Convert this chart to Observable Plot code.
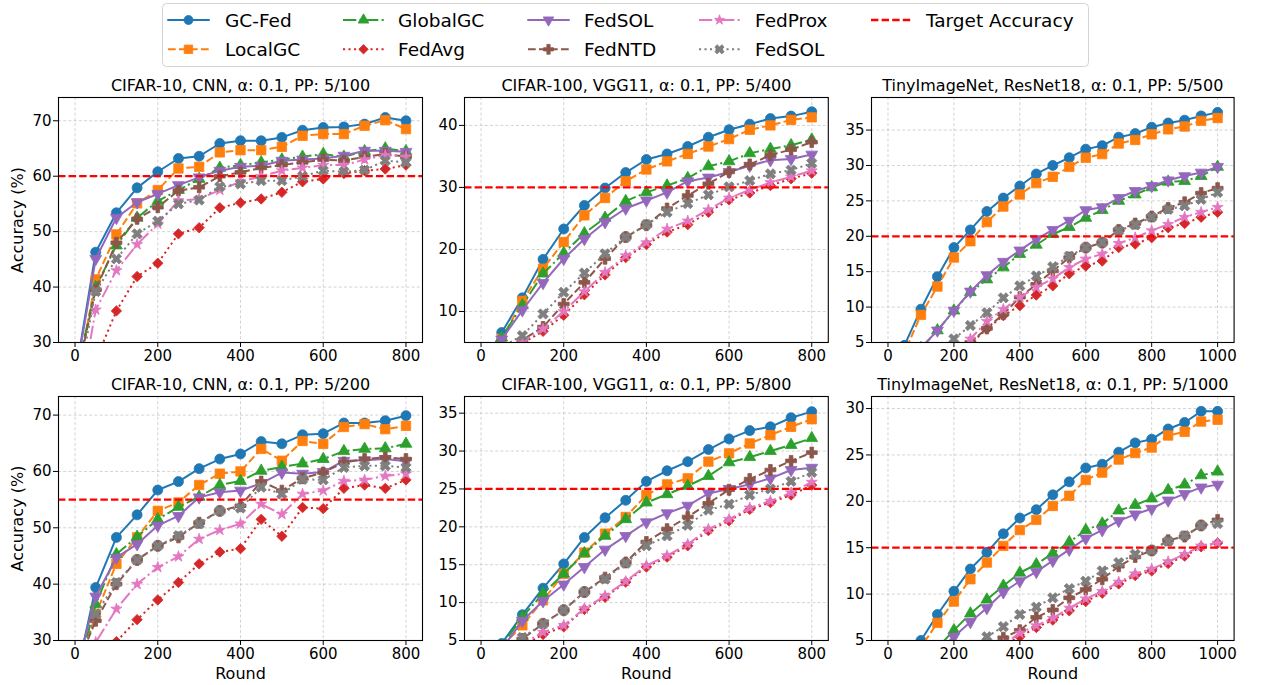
<!DOCTYPE html>
<html><head><meta charset="utf-8">
<script src="https://cdn.jsdelivr.net/npm/d3@7"></script>
<script src="https://cdn.jsdelivr.net/npm/@observablehq/plot@0.6"></script>
<style>
body{margin:0;background:#fff;font-family:"DejaVu Sans",sans-serif;}
#chart{position:relative;width:1262px;height:685px;overflow:hidden;background:#fff;}
#chart svg{position:absolute;}
</style></head><body><div id="chart"></div>
<script>
// ---- series definitions ----
const seriesNames = ["GC-Fed","LocalGC","GlobalGC","FedAvg","FedSOL","FedNTD","FedProx","FedSOL"];
const seriesColors = ["#1f77b4","#ff7f0e","#2ca02c","#d62728","#9467bd","#8c564b","#e377c2","#7f7f7f"];
const seriesDash = [null,"7.7,3.3","13.3,3.3,2.1,3.3","2.1,3.4",null,"7.7,3.3","13.3,3.3,2.1,3.3","2.1,3.4"];

// ---- rounds ----
const rounds800 = [0,50,100,150,200,250,300,350,400,450,500,550,600,650,700,750,800];
const rounds1000 = [0,50,100,150,200,250,300,350,400,450,500,550,600,650,700,750,800,850,900,950,1000];
const xTicks800 = [0,200,400,600,800];
const xTicks1000 = [0,200,400,600,800,1000];

// ---- accuracy values, series order as seriesNames ----
const cifar10_pp100 = [
  [23.7,46.3,53.4,57.9,60.8,63.2,63.6,65.9,66.4,66.4,67.0,68.3,68.8,68.9,69.4,70.6,70.0],
  [21,41.4,49.5,55.1,57.5,61.4,61.7,64.3,64.7,64.7,65.3,67.3,67.6,67.6,69.1,70.1,68.5],
  [23.3,40,47.5,52.5,55.5,57.5,59.5,61.5,62,62.5,63,63.5,64,63.5,64.5,65,64.5],
  [10,26.8,35.7,41.9,44.3,49.6,50.7,54.3,55.2,55.9,57.1,59.0,59.5,60.5,61,61.3,62],
  [23.5,45.1,52.5,55.3,56.8,58.4,59.8,61,61.7,61.9,62.8,63,63.2,63.7,64.6,64.6,64.4],
  [22.5,39.5,48,52.3,54.4,57.4,58,60,60.7,61.5,62,62.5,63,62.8,63.5,64,63.5],
  [15,35.9,43,47.7,51.4,55.6,55.9,57.5,59,60,61,61.5,62,62,63,63.8,63.5],
  [20,39.2,45.1,49.6,51.9,55,55.7,58.1,58.6,59.2,59.2,60,61,60.8,61.1,62.8,62.5]
];
const cifar100_pp400 = [
  [1,6.6,12.2,18.4,23.3,27.1,29.9,32.4,34.5,35.4,36.6,38.1,39.3,40.2,41.1,41.5,42.2],
  [1,5.6,11.7,16.9,21.2,25.5,28.3,31,32.9,34.2,35.4,36.6,37.8,39.3,40,40.9,41.3],
  [1,5.8,11,16.1,19.4,22.6,25.1,27.8,29.2,30.3,31.5,33.4,34.2,35.5,36.2,36.8,37.7],
  [1,3,4.9,6.8,9.4,12.7,15.9,18.7,20.8,22.8,24,26,28,29.1,30.3,31.4,32.3],
  [1,5.5,10.2,14.6,18.5,21.7,24.4,26.6,27.9,29.2,31,31.6,32.5,33.5,34.4,34.6,35.3],
  [1,3.5,5.4,7.5,11.2,14.7,18.5,22,23.9,26.6,28.7,30.6,32.5,33.7,35.2,36.1,37.3],
  [1,3.1,5.1,7.2,10,13.2,16.3,19,21.1,23.3,24.6,26.4,28.3,29.6,30.8,31.7,32.7],
  [1,4.3,6.1,9.6,13.1,16.2,19.3,22,24,26,27.4,28.8,30.1,31.1,32.2,32.8,33.9]
];
const tiny_pp500 = [
  [0.5,4.6,9.7,14.3,18.4,20.9,23.5,25.4,27.1,28.8,30,31.1,32.3,32.8,34,34.5,35.4,36,36.4,37,37.5],
  [0.5,3.6,8.9,12.9,17,19.3,22,24.2,25.9,27.5,28.4,29.8,31.1,31.6,33.1,33.6,34.4,35.1,35.5,36.3,36.7],
  [0.5,1.5,4.2,6.7,9.5,12.1,13.9,15.6,17.5,18.8,20.3,21.3,22.6,23.7,25,25.9,26.9,27.7,27.8,28.5,29.8],
  [0.5,1,1.8,2.4,3,4.8,6.9,8.8,10.2,11.7,13,14.7,15.8,16.5,18.4,18.9,19.8,21.2,21.8,22.7,23.4],
  [0.5,1.5,4.2,6.7,9.5,12.2,14.5,16.4,18,19.6,20.9,22.2,23.7,24.1,25.4,26.4,27.1,27.9,28.5,29,29.8],
  [0.5,1,1.8,2.6,3.5,5,7,9,11.4,13.2,15.1,17,18.4,19.1,20.9,21.8,22.8,24,24.8,26.1,26.8],
  [0.5,1,1.8,2.5,3.2,5.5,8,9.7,11.4,12.8,14,15.6,16.8,17.5,19,19.8,20.8,21.7,22.7,23.4,24.1],
  [0.5,1,2,3.5,5.5,7.4,9.2,11.3,13,14.4,15.7,17.2,18.4,19.1,20.8,21.6,22.7,23.8,24.3,25.2,26.2]
];
const cifar10_pp200 = [
  [22.6,39.4,48.3,52.3,56.7,58.2,60.5,62.2,63.1,65.3,64.9,66.5,66.7,68.6,68.6,69,69.9],
  [23,34.7,43.6,48.3,53,54.5,57.6,59.6,60,64,61.9,65.4,64.9,67.9,68.4,67.5,68.1],
  [23,36.4,45.3,48.4,51.5,53.7,55.5,57.6,58.3,60.1,60.8,61.4,62.2,63.6,64,64.1,64.9],
  [10,24,29.8,33.7,37.2,40.3,43.6,45.7,46.3,51.5,48.5,53.6,53.4,57,57.6,57,58.5],
  [23.9,37.8,44.7,47.1,50.4,52.1,55.4,56.3,56.6,57.9,59.8,59.6,59.9,61.9,62,62.2,61.8],
  [24.8,33.5,40,44.3,46.8,48.3,50.9,53,53.9,58.2,56.6,58.8,59.8,61.6,62.2,62.5,62.2],
  [15,29.7,35.6,40,43,44.9,48,49.6,50.7,54.2,52.4,56,56.6,58.3,58.5,59.2,59.6],
  [24,34.7,40.3,44.3,46.8,48.6,50.7,53,53.5,57.2,56,58.6,58.5,60.7,61,61,60.7]
];
const cifar100_pp800 = [
  [1,4.6,8.4,11.9,15.1,18.6,21.2,23.5,26,27.4,28.6,30.2,31.6,32.7,33.2,34.4,35.2],
  [1,4.2,7,10.3,13.8,16.6,19.1,21.3,24.2,25.6,26.4,28.6,29.7,31,32.1,33.2,34.2],
  [1,4.3,8.1,11.2,13.8,16.5,18.8,21,23.2,24.3,25.4,26.7,28.5,29.2,30,30.8,31.7],
  [1,2.5,4.3,5.8,6.8,9.1,10.7,12.7,14.7,16,17.5,19.5,20.8,22.3,23.2,24.2,25.5],
  [1,3.9,7.6,10.2,12.4,14.7,17,18.8,20.6,21.8,22.8,24.4,25,25.6,26.4,27.5,27.8],
  [1,3,5.2,7.2,9,11.4,13.3,15.3,18,19.7,21.3,23.1,24.9,26.3,27.5,28.7,29.8],
  [1,2.6,4.5,6.1,7,9.2,10.9,12.8,14.9,16.2,17.7,19.7,21,22.5,23.4,24.5,25.9],
  [1,3,5.4,7.2,9,11.4,13.1,15.2,17.5,18.8,20.2,22.2,23,24.2,25,26,27.2]
];
const tiny_pp1000 = [
  [0.5,2,5,7.8,10.3,12.7,14.5,16.5,18.2,19.1,20.7,22.1,23.6,24,25.3,26.3,26.7,27.8,28.5,29.7,29.7],
  [0.5,1.8,4.3,6.9,9.2,11.6,13.4,15.2,16.9,18,19.5,20.6,22.3,23.1,24.5,25.2,25.8,27.1,27.5,28.6,28.8],
  [0.5,1,2.5,4.2,6.1,7.9,9.4,10.9,12.3,13.2,14.4,15.6,16.9,17.6,19,19.6,20.3,21.2,21.8,22.8,23.2],
  [0.5,1,1.5,2,2.5,3,3.8,4.5,5.4,6.4,7.2,8.2,9.2,10.1,11.1,12,12.5,13.3,14.1,15.1,15.5],
  [0.5,1,2.2,3.8,5.4,7,8.5,10.2,11.4,12.4,13.6,14.8,16,16.9,17.9,18.6,19.2,20.1,20.8,21.5,21.8],
  [0.5,1,1.5,2,2.8,3.5,4.3,5.3,6.1,7.5,8.3,9.6,10.5,11.6,13,14,14.7,15.8,16.2,17.4,18],
  [0.5,1,1.5,2,2.6,3.2,3.9,4.6,5.8,6.6,7.4,8.5,9.5,10.3,11.3,12.2,12.7,13.5,14.3,15.2,15.5],
  [0.5,1,1.6,2.3,3,4.3,5.4,6.5,7.8,8.6,9.6,10.6,11.4,12.5,13.4,14.3,14.7,15.7,16.3,17.4,17.6]
];

const panelTitles = [
  "CIFAR-10, CNN, α: 0.1, PP: 5/100",
  "CIFAR-100, VGG11, α: 0.1, PP: 5/400",
  "TinyImageNet, ResNet18, α: 0.1, PP: 5/500",
  "CIFAR-10, CNN, α: 0.1, PP: 5/200",
  "CIFAR-100, VGG11, α: 0.1, PP: 5/800",
  "TinyImageNet, ResNet18, α: 0.1, PP: 5/1000"
];
const targetAccuracy = [60, 30, 20, 55, 25, 15];
const yTicksList = [
  [30,40,50,60,70],
  [10,20,30,40],
  [5,10,15,20,25,30,35],
  [30,40,50,60,70],
  [5,10,15,20,25,30,35],
  [5,10,15,20,25,30]
];
const yDomains = [[30,74.2],[5,44.5],[5,39.6],[30,73.3],[5,37.2],[5,31.3]];

// ---- symbols ----
const SQ3 = Math.sqrt(3);
const triangleDown = {
  draw(ctx, size) {
    const y = -Math.sqrt(size / (SQ3 * 3));
    ctx.moveTo(0, -y * 2);
    ctx.lineTo(-SQ3 * y, y);
    ctx.lineTo(SQ3 * y, y);
    ctx.closePath();
  }
};
const filledX = {
  draw(ctx, size) {
    const r = Math.sqrt(size / 5) / 2;
    const pts = [[-3*r,-r],[-r,-r],[-r,-3*r],[r,-3*r],[r,-r],[3*r,-r],[3*r,r],[r,r],[r,3*r],[-r,3*r],[-r,r],[-3*r,r]];
    const c = Math.SQRT1_2;
    pts.forEach(([x,y],i) => { const X=(x-y)*c, Y=(x+y)*c; if (i) ctx.lineTo(X,Y); else ctx.moveTo(X,Y); });
    ctx.closePath();
  }
};
const seriesSymbols = ["circle","square","triangle","diamond2",triangleDown,"cross","star",filledX];
const d3Symbols = [d3.symbolCircle,d3.symbolSquare,d3.symbolTriangle,d3.symbolDiamond2,triangleDown,d3.symbolCross,d3.symbolStar,filledX];
const seriesR = [5,5.3,4.4,4.7,4.4,4.6,3.5,4.6];

// ---- layout ----
const colL = [57.5, 463.8, 871.2], colR = [421.5, 827.6, 1233.8];
const rowT = [97, 396], rowB = [342, 640];
const ML = 60, MR = 15, MT = 30, MB = 45;

const panelData = [cifar10_pp100, cifar100_pp400, tiny_pp500, cifar10_pp200, cifar100_pp800, tiny_pp1000];
const chart = document.getElementById("chart");

panelData.forEach((series, p) => {
  const col = p % 3, row = Math.floor(p / 3);
  const is1000 = col === 2;
  const rounds = is1000 ? rounds1000 : rounds800;
  const xDomain = is1000 ? [-50, 1050] : [-40, 840];
  const xTicks = is1000 ? xTicks1000 : xTicks800;
  const yTicks = yTicksList[p];
  const marks = [
    Plot.gridX(xTicks, {stroke: "#b0b0b0", strokeOpacity: 0.7, strokeWidth: 0.8, strokeDasharray: "3,2.2"}),
    Plot.gridY(yTicks, {stroke: "#b0b0b0", strokeOpacity: 0.7, strokeWidth: 0.8, strokeDasharray: "3,2.2"})
  ];
  series.forEach((vals, s) => {
    const pts = rounds.map((r, i) => ({round: r, acc: vals[i]}));
    marks.push(Plot.line(pts, {x: "round", y: "acc", stroke: seriesColors[s], strokeWidth: 2,
      strokeDasharray: seriesDash[s] || undefined, strokeLinecap: seriesDash[s] ? "butt" : "round",
      strokeLinejoin: "round", clip: true}));
    marks.push(Plot.dot(pts, {x: "round", y: "acc", fill: seriesColors[s], stroke: seriesColors[s],
      strokeWidth: 0.8, symbol: seriesSymbols[s], r: seriesR[s], clip: true}));
  });
  marks.push(Plot.ruleY([targetAccuracy[p]], {stroke: "#ff0000", strokeWidth: 2.3, strokeDasharray: "7.4,3.2", strokeLinecap: "butt"}));
  marks.push(Plot.frame({stroke: "#000", strokeWidth: 1.1}));
  marks.push(Plot.axisX(xTicks, {tickSize: 5, tickPadding: 3, fontSize: 15, label: null, stroke: "#000", tickFormat: d3.format("d")}));
  marks.push(Plot.axisY(yTicks, {tickSize: 5, tickPadding: 2, fontSize: 15, label: null, stroke: "#000", tickFormat: d3.format("d")}));
  marks.push(Plot.text([panelTitles[p]], {frameAnchor: "top", lineAnchor: "middle", dy: -12, fontSize: 16, fill: "#000"}));
  if (col === 0) marks.push(Plot.text(["Accuracy (%)"], {frameAnchor: "left", dx: 17 - colL[0], rotate: -90, textAnchor: "middle", lineAnchor: "middle", fontSize: 16, fill: "#000"}));
  if (row === 1) marks.push(Plot.text(["Round"], {frameAnchor: "bottom", lineAnchor: "middle", dy: 33, fontSize: 16, fill: "#000"}));

  const w = colR[col] - colL[col], h = rowB[row] - rowT[row];
  const svg = Plot.plot({
    width: w + ML + MR, height: h + MT + MB,
    marginLeft: ML, marginRight: MR, marginTop: MT, marginBottom: MB,
    x: {domain: xDomain}, y: {domain: yDomains[p]},
    style: {fontFamily: "DejaVu Sans", fontSize: "15px", background: "transparent", overflow: "visible", color: "#000"},
    marks
  });
  svg.style.position = "absolute";
  svg.style.left = (colL[col] - ML) + "px";
  svg.style.top = (rowT[row] - MT) + "px";
  svg.style.maxWidth = "none";
  chart.appendChild(svg);
});

// ---- legend ----
const lg = d3.select(chart).append("svg").attr("width", 1262).attr("height", 72).style("left", "0px").style("top", "0px");
lg.append("rect").attr("x", 162.5).attr("y", 3.5).attr("width", 926).attr("height", 63).attr("rx", 4)
  .attr("fill", "#fff").attr("stroke", "#d4d4d4");
const hx = [168, 343, 528, 699, 871], tx = [225, 398, 584, 755, 926];
const lineY = [20, 49.3], baseY = [27.3, 56];
const items = seriesNames.map((n, i) => ({name: n, i}));
items.push({name: "Target Accuracy", i: -1});
items.forEach((it, k) => {
  const c = Math.floor(k / 2), r = k % 2;
  const g = lg.append("g");
  if (it.i >= 0) {
    g.append("line").attr("x1", hx[c]).attr("x2", hx[c] + 41).attr("y1", lineY[r]).attr("y2", lineY[r])
      .attr("stroke", seriesColors[it.i]).attr("stroke-width", 2)
      .attr("stroke-dasharray", seriesDash[it.i]).attr("stroke-linecap", seriesDash[it.i] ? "butt" : "round");
    g.append("path").attr("transform", `translate(${hx[c] + 20.5},${lineY[r]})`)
      .attr("d", d3.symbol().type(d3Symbols[it.i]).size(Math.PI * (seriesR[it.i] * 0.9) ** 2)())
      .attr("fill", seriesColors[it.i]).attr("stroke", seriesColors[it.i]).attr("stroke-width", 0.8);
  } else {
    g.append("line").attr("x1", hx[c]).attr("x2", hx[c] + 41).attr("y1", lineY[r]).attr("y2", lineY[r])
      .attr("stroke", "#ff0000").attr("stroke-width", 2.3).attr("stroke-dasharray", "7.4,3.2");
  }
  g.append("text").attr("x", tx[c]).attr("y", baseY[r]).text(it.name)
    .attr("font-family", "DejaVu Sans").attr("font-size", 18.5).attr("fill", "#000");
});
</script></body></html>
